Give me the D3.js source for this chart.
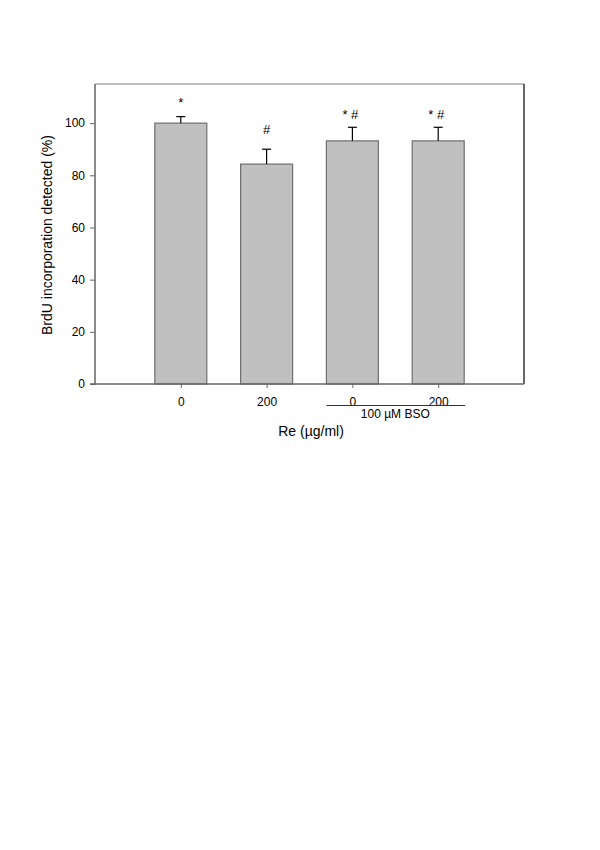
<!DOCTYPE html>
<html>
<head>
  <meta charset="UTF-8">
  <style>
    body { margin: 0; background: #fff; }
    text { font-family: Arial, "Liberation Sans", sans-serif; fill: #000; }
  </style>
</head>
<body>
<svg></svg>
<script src="https://d3js.org/d3.v7.min.js"></script>
<script>
let width = 600, height = 850;

// data
let groups = ["0", "200", "0", "200"];
let means = [100, 84.3, 93.2, 93.2];
let errors = [2.5, 5.7, 5.2, 5.2];
let marks = ["*", "#", "* #", "* #"];
let yTicks = [0, 20, 40, 60, 80, 100];

let svg = d3.select("svg")
    .attr("width", width)
    .attr("height", height);

let plotL = 95, plotR = 524, plotT = 84, plotB = 384;

let x = d3.scaleLinear().domain([0, 5]).range([plotL, plotR]);
let y = d3.scaleLinear().domain([0, 115]).range([plotB, plotT]);
let barW = 52;

// frame: top and right lines
svg.append("line")
  .attr("x1", plotL).attr("x2", plotR).attr("y1", plotT).attr("y2", plotT)
  .attr("stroke", "#aaa").attr("stroke-width", 1.5);
svg.append("line")
  .attr("x1", plotR).attr("x2", plotR).attr("y1", plotT).attr("y2", plotB)
  .attr("stroke", "#333").attr("stroke-width", 1.5);

// bars
svg.selectAll("rect.bar")
  .data(means)
  .enter()
  .append("rect")
  .attr("class", "bar")
  .attr("x", (d, i) => x(i + 1) - barW / 2)
  .attr("y", d => y(d))
  .attr("width", barW)
  .attr("height", d => y(0) - y(d))
  .attr("fill", "#c0c0c0")
  .attr("stroke", "#6e6e6e")
  .attr("stroke-width", 1.2);

// error bars (upper only)
let eb = svg.append("g");
means.forEach((m, i) => {
  let cx = x(i + 1);
  eb.append("line")
    .attr("x1", cx).attr("x2", cx)
    .attr("y1", y(m)).attr("y2", y(m + errors[i]))
    .attr("stroke", "#000").attr("stroke-width", 1.2);
  eb.append("line")
    .attr("x1", cx - 4.5).attr("x2", cx + 4.5)
    .attr("y1", y(m + errors[i])).attr("y2", y(m + errors[i]))
    .attr("stroke", "#000").attr("stroke-width", 1.2);
});

// significance marks
let markY = [106, 96, 101.5, 101.5];
svg.selectAll("text.mark")
  .data(marks)
  .enter()
  .append("text")
  .attr("class", "mark")
  .attr("x", (d, i) => x(i + 1) + (d.length > 1 ? -2 : 0))
  .attr("y", (d, i) => y(markY[i]))
  .attr("text-anchor", "middle")
  .style("font-size", "13px")
  .text(d => d);

// y axis
let yAxis = svg.append("g")
  .attr("transform", `translate(${plotL},0)`)
  .call(d3.axisLeft(y).tickValues(yTicks).tickSize(5).tickPadding(5));
yAxis.select(".domain").attr("stroke", "#666").attr("stroke-width", 1.5)
  .attr("d", `M-5,${plotB}H0V${plotT}`);
yAxis.selectAll(".tick line").attr("stroke", "#666");
yAxis.selectAll("text").style("font-size", "12px").style("font-family", "Arial, sans-serif");

// x axis
let xAxis = svg.append("g")
  .attr("transform", `translate(0,${plotB})`)
  .call(d3.axisBottom(x).tickValues([1, 2, 3, 4])
    .tickFormat((d, i) => groups[i]).tickSize(4).tickPadding(9));
xAxis.select(".domain").attr("stroke", "#666").attr("stroke-width", 1.5)
  .attr("d", `M${plotL},0H${plotR}`);
xAxis.selectAll(".tick line").attr("stroke", "#666");
xAxis.selectAll("text").style("font-size", "12px").style("font-family", "Arial, sans-serif");

// BSO group line and label
svg.append("line")
  .attr("x1", x(3) - 26).attr("x2", x(4) + 27)
  .attr("y1", 405.5).attr("y2", 405.5)
  .attr("stroke", "#333").attr("stroke-width", 1);
svg.append("text")
  .attr("x", (x(3) + x(4)) / 2)
  .attr("y", 417.5)
  .attr("text-anchor", "middle")
  .style("font-size", "12px")
  .text("100 \u00b5M BSO");

// axis titles
svg.append("text")
  .attr("x", 311)
  .attr("y", 436)
  .attr("text-anchor", "middle")
  .style("font-size", "14px")
  .text("Re (\u00b5g/ml)");

svg.append("text")
  .attr("transform", `translate(52,235) rotate(-90)`)
  .attr("text-anchor", "middle")
  .style("font-size", "14px")
  .text("BrdU incorporation detected (%)");
</script>
</body>
</html>
